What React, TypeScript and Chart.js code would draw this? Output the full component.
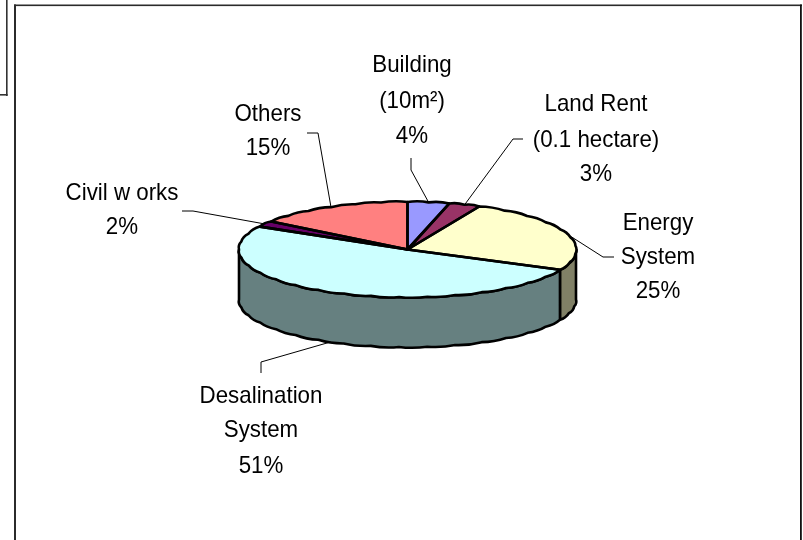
import React, { useEffect, useRef } from "react";
import { Chart, registerables } from "chart.js";

Chart.register(...registerables);

const categories = ["Building (10m²)", "Land Rent (0.1 hectare)", "Energy System", "Desalination System", "Civil works", "Others"];
const shares = [4, 3, 25, 51, 2, 15];
const topColors = ["#9999FF", "#993366", "#FFFFCC", "#CCFFFF", "#660066", "#FF8080"];
const wallColors = ["#4C4C80", "#4C1A33", "#808066", "#668080", "#330033", "#804040"];
const labelLines = [
  ["Building", "(10m²)", "4%"],
  ["Land Rent", "(0.1 hectare)", "3%"],
  ["Energy", "System", "25%"],
  ["Desalination", "System", "51%"],
  ["Civil w orks", "2%"],
  ["Others", "15%"],
];
// label centre x and per-line baselines
const labelX = [412, 596, 658, 261, 122, 268];
const labelBaselines = [
  [72, 108, 143],
  [111, 147, 181],
  [230, 264, 298],
  [403, 437, 473],
  [200, 234],
  [121, 155],
];
// leader line: text end, then knee
const leaderStarts = [[411, 158], [523, 139], [614, 257], [261, 373], [182, 211], [307, 133]];
const leaderKnees = [[411, 170], [513, 139], [603, 257], [261, 362], [193, 211], [318, 133]];

const SQUASH = 0.282;
const DEPTH = 50;
const STEP = (10 * Math.PI) / 180;
const BUMP = 1.8;
const TEXT_NARROW = 0.93;

function pt(cx: number, cy: number, r: number, a: number, extra = 0) {
  const rx = r, ry = r * SQUASH;
  let nx = Math.cos(a) / rx, ny = Math.sin(a) / ry;
  const n = Math.hypot(nx, ny);
  nx /= n; ny /= n;
  return [cx + rx * Math.cos(a) + nx * extra, cy + ry * Math.sin(a) + ny * extra];
}

// scalloped rim, following the look of the reference outline
function rim(ctx: CanvasRenderingContext2D, cx: number, cy: number, r: number, a0: number, a1: number, move: boolean) {
  const n = Math.max(1, Math.ceil(Math.abs(a1 - a0) / STEP));
  const s = (a1 - a0) / n;
  const p0 = pt(cx, cy, r, a0);
  if (move) ctx.moveTo(p0[0], p0[1]); else ctx.lineTo(p0[0], p0[1]);
  for (let i = 0; i < n; i++) {
    const c = pt(cx, cy, r, a0 + s * (i + 0.5), BUMP);
    const e = pt(cx, cy, r, a0 + s * (i + 1));
    ctx.quadraticCurveTo(c[0], c[1], e[0], e[1]);
  }
}

const piePlugin = {
  id: "pie3d",
  beforeDraw(chart: any) {
    const ctx = chart.ctx;
    ctx.save();
    ctx.fillStyle = "#fff";
    ctx.fillRect(0, 0, chart.width, chart.height);
    ctx.fillStyle = "#2b2b2b";
    ctx.fillRect(14, 4.5, 788, 1.6);
    ctx.fillRect(14, 4.5, 2, chart.height);
    ctx.fillStyle = "#111";
    ctx.fillRect(800, 4.5, 1.8, chart.height);
    ctx.fillStyle = "#333";
    ctx.fillRect(6, 0, 1.6, 96);
    ctx.fillRect(0, 94, 7.6, 1.6);
    ctx.restore();
  },
  beforeDatasetsDraw(chart: any) {
    const ctx = chart.ctx;
    const arcs = chart.getDatasetMeta(0).data;
    ctx.save();
    ctx.lineWidth = 2.6;
    ctx.strokeStyle = "#000";
    ctx.lineJoin = "round";
    arcs.forEach((arc: any, i: number) => {
      const { x, y, startAngle, endAngle, outerRadius: r } = arc.getProps(["x", "y", "startAngle", "endAngle", "outerRadius"]);
      const a0 = Math.max(startAngle, 0);
      const a1 = Math.min(endAngle, Math.PI);
      if (a1 <= a0) return;
      ctx.beginPath();
      rim(ctx, x, y, r, a0, a1, true);
      rim(ctx, x, y + DEPTH, r, a1, a0, false);
      ctx.closePath();
      ctx.fillStyle = wallColors[i];
      ctx.fill();
      ctx.stroke();
    });
    ctx.restore();
    const a = arcs[0];
    ctx.save();
    ctx.translate(a.x, a.y);
    ctx.scale(1, SQUASH);
    ctx.translate(-a.x, -a.y);
  },
  afterDatasetsDraw(chart: any) {
    const ctx = chart.ctx;
    ctx.restore();
    const arcs = chart.getDatasetMeta(0).data;
    ctx.save();
    ctx.lineWidth = 2.6;
    ctx.strokeStyle = "#000";
    ctx.lineJoin = "round";
    arcs.forEach((arc: any) => {
      const { x, y, startAngle, endAngle, outerRadius: r } = arc.getProps(["x", "y", "startAngle", "endAngle", "outerRadius"]);
      ctx.beginPath();
      ctx.moveTo(x, y);
      rim(ctx, x, y, r, startAngle, endAngle, false);
      ctx.closePath();
      ctx.stroke();
    });
    ctx.restore();
  },
  afterDraw(chart: any) {
    const ctx = chart.ctx;
    const arcs = chart.getDatasetMeta(0).data;
    ctx.save();
    ctx.strokeStyle = "#000";
    ctx.lineWidth = 1;
    arcs.forEach((arc: any, i: number) => {
      const { x, y, startAngle, endAngle, outerRadius: r } = arc.getProps(["x", "y", "startAngle", "endAngle", "outerRadius"]);
      const mid = (startAngle + endAngle) / 2;
      const front = Math.sin(mid) > 0 && mid < Math.PI;
      const end = pt(x, y + (front ? DEPTH : 0), r, mid);
      ctx.beginPath();
      ctx.moveTo(leaderStarts[i][0], leaderStarts[i][1]);
      ctx.lineTo(leaderKnees[i][0], leaderKnees[i][1]);
      ctx.lineTo(end[0], end[1]);
      ctx.stroke();
    });
    ctx.fillStyle = "#000";
    ctx.font = '24px "Liberation Sans", Arial, sans-serif';
    ctx.textAlign = "center";
    ctx.textBaseline = "alphabetic";
    labelLines.forEach((lines, i) => {
      lines.forEach((t, j) => {
        ctx.save();
        ctx.translate(labelX[i], labelBaselines[i][j]);
        ctx.scale(TEXT_NARROW, 1);
        ctx.fillText(t, 0, 0);
        ctx.restore();
      });
    });
    ctx.restore();
  },
};

export default function App() {
  const ref = useRef<HTMLCanvasElement>(null);
  useEffect(() => {
    const chart = new Chart(ref.current as HTMLCanvasElement, {
      type: "pie",
      data: {
        labels: categories,
        datasets: [{ data: shares, backgroundColor: topColors, borderWidth: 0 }],
      },
      options: {
        animation: false,
        responsive: false,
        layout: { padding: { left: 239, right: 227, top: 81, bottom: 122 } },
        plugins: { legend: { display: false }, tooltip: { enabled: false } },
      },
      plugins: [piePlugin],
    } as any);
    return () => chart.destroy();
  }, []);
  return (
    <div style={{ position: "absolute", left: 0, top: 0, width: 803, height: 540, overflow: "hidden" }}>
      <canvas ref={ref} width={803} height={540} style={{ display: "block" }} />
    </div>
  );
}
